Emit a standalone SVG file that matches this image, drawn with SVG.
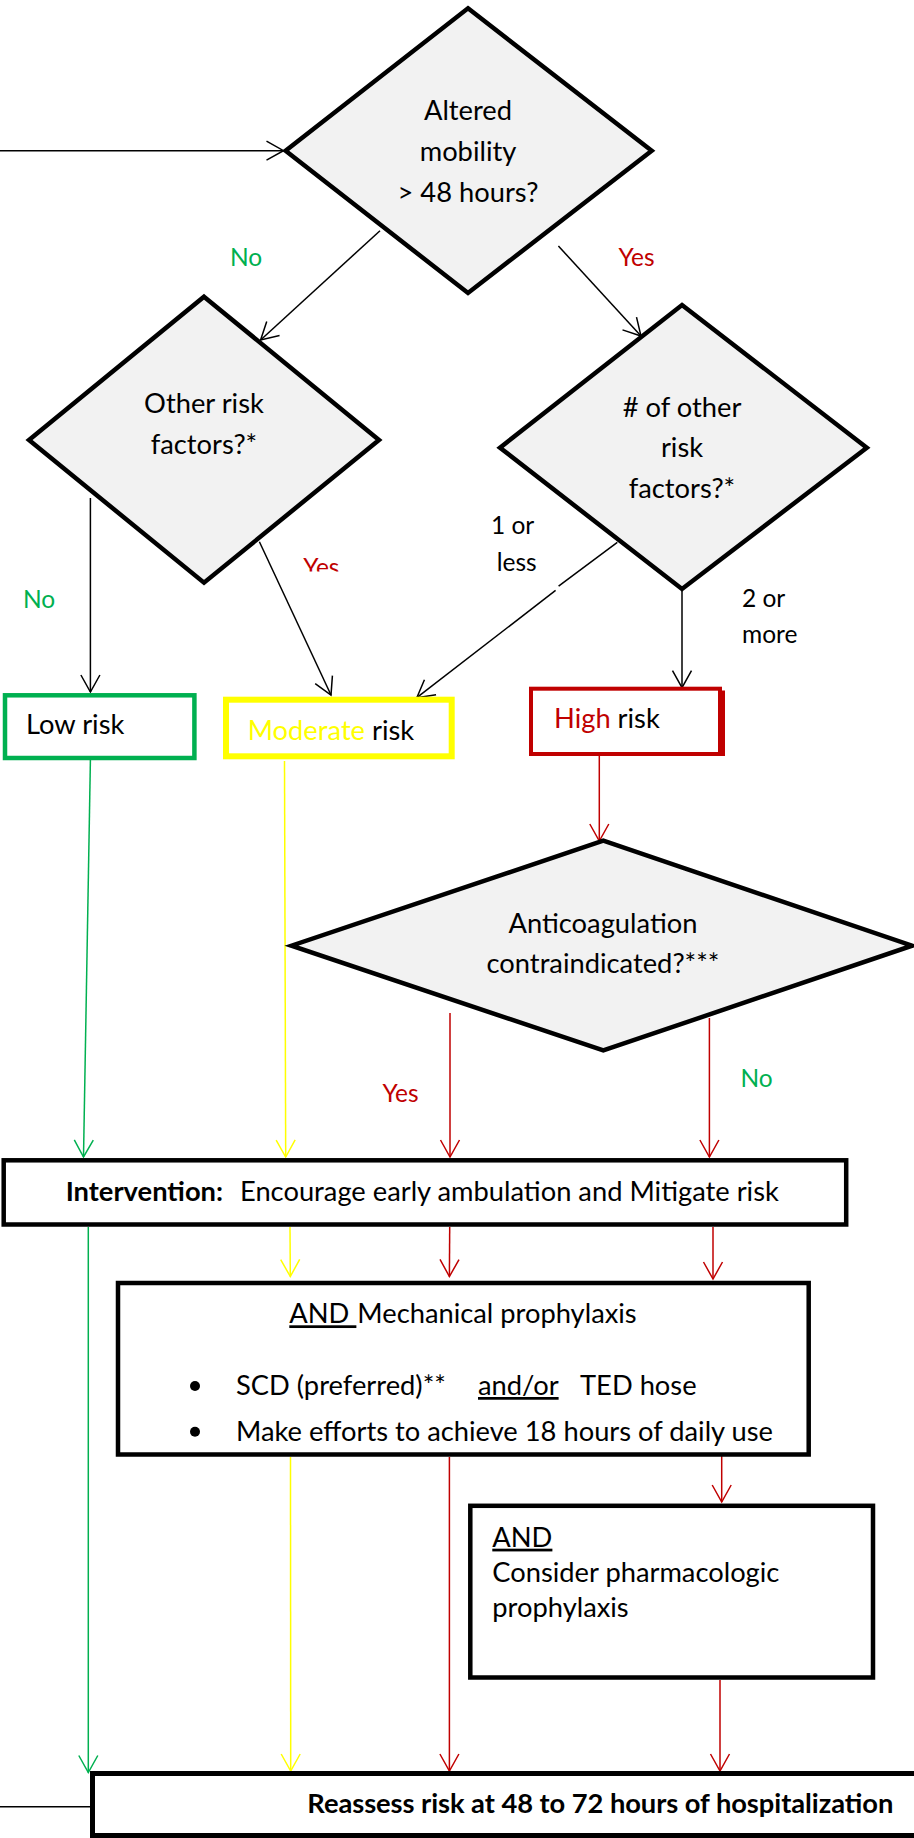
<svg xmlns="http://www.w3.org/2000/svg" width="914" height="1838" viewBox="0 0 914 1838">
<style>
.dia{fill:#F2F2F2;stroke:#000;stroke-width:4.5;stroke-linejoin:miter}
.box{fill:#fff;stroke:#000;stroke-width:4.5}
.t{font-family:Lato,'Liberation Sans',sans-serif;font-size:27.3px;fill:#000}
.c{text-anchor:middle}
.lbl{font-size:24.5px}
.b{font-weight:bold}
.e{fill:none;stroke-width:1.5}
.k{stroke:#000}
.g{stroke:#00B050}
.y{stroke:#FFFF00}
.r{stroke:#C00000}
.gt{fill:#00B050}
.rt{fill:#C00000}
.yt{fill:#FFFF00}
.u{text-decoration:underline}
</style>
<defs>
<marker id="ak" markerUnits="userSpaceOnUse" viewBox="-19 -11 21 22" refX="0" refY="0" markerWidth="21" markerHeight="22" orient="auto" overflow="visible"><path d="M-17,-9.5 L0,0 L-17,9.5" fill="none" stroke="#000" stroke-width="1.5"/></marker>
<marker id="ag" markerUnits="userSpaceOnUse" viewBox="-19 -11 21 22" refX="0" refY="0" markerWidth="21" markerHeight="22" orient="auto" overflow="visible"><path d="M-17,-9.5 L0,0 L-17,9.5" fill="none" stroke="#00B050" stroke-width="1.5"/></marker>
<marker id="ay" markerUnits="userSpaceOnUse" viewBox="-19 -11 21 22" refX="0" refY="0" markerWidth="21" markerHeight="22" orient="auto" overflow="visible"><path d="M-17,-9.5 L0,0 L-17,9.5" fill="none" stroke="#FFFF00" stroke-width="1.5"/></marker>
<marker id="ar" markerUnits="userSpaceOnUse" viewBox="-19 -11 21 22" refX="0" refY="0" markerWidth="21" markerHeight="22" orient="auto" overflow="visible"><path d="M-17,-9.5 L0,0 L-17,9.5" fill="none" stroke="#C00000" stroke-width="1.5"/></marker>
<clipPath id="clipYes"><rect x="290" y="550" width="60" height="21.5"/></clipPath>
</defs>
<rect width="914" height="1838" fill="#fff"/>

<g id="connectors">
<line class="e k" x1="0" y1="150.7" x2="283.5" y2="150.7" marker-end="url(#ak)"/>
<line class="e k" x1="380" y1="230.7" x2="260.6" y2="340" marker-end="url(#ak)"/>
<line class="e k" x1="558.4" y1="246" x2="641" y2="336" marker-end="url(#ak)"/>
<line class="e k" x1="90.4" y1="498" x2="90.4" y2="692" marker-end="url(#ak)"/>
<line class="e k" x1="259.4" y1="541.7" x2="331" y2="695" marker-end="url(#ak)"/>
<line class="e k" x1="617.3" y1="542.3" x2="558.6" y2="586.2"/>
<line class="e k" x1="555.6" y1="590.4" x2="416.8" y2="697.7" marker-end="url(#ak)"/>
<line class="e k" x1="682" y1="589" x2="682" y2="687.7" marker-end="url(#ak)"/>
<line class="e g" x1="90.4" y1="760" x2="83.5" y2="1157" marker-end="url(#ag)"/>
<line class="e y" x1="284.5" y1="761" x2="285.7" y2="1157" marker-end="url(#ay)"/>
<line class="e r" x1="599.3" y1="756" x2="599.3" y2="841" marker-end="url(#ar)"/>
<line class="e r" x1="450" y1="1013" x2="450" y2="1157" marker-end="url(#ar)"/>
<line class="e r" x1="709.4" y1="1018" x2="709.4" y2="1157" marker-end="url(#ar)"/>
<line class="e y" x1="290" y1="1227" x2="290.3" y2="1276.5" marker-end="url(#ay)"/>
<line class="e r" x1="449.7" y1="1227" x2="449.4" y2="1276.5" marker-end="url(#ar)"/>
<line class="e r" x1="713" y1="1227" x2="713" y2="1279" marker-end="url(#ar)"/>
<line class="e r" x1="721.7" y1="1451" x2="721.7" y2="1502" marker-end="url(#ar)"/>
<line class="e y" x1="290.5" y1="1457" x2="290.7" y2="1771" marker-end="url(#ay)"/>
<line class="e r" x1="449.4" y1="1457" x2="449.4" y2="1771" marker-end="url(#ar)"/>
<line class="e r" x1="720" y1="1680" x2="720" y2="1771" marker-end="url(#ar)"/>
<line class="e g" x1="88.3" y1="1227" x2="88.3" y2="1772.5" marker-end="url(#ag)"/>
<line class="e k" x1="0" y1="1806.7" x2="90" y2="1806.7"/>
</g>

<g id="labels">
<text class="t lbl gt c" x="246" y="265.7">No</text>
<text class="t lbl rt c" x="636.5" y="265.7">Yes</text>
<text class="t lbl gt c" x="39" y="608.3">No</text>
<text class="t lbl rt" x="303.3" y="575.5" clip-path="url(#clipYes)">Yes</text>
<text class="t lbl" x="491" y="534">1 or</text>
<text class="t lbl" x="496.7" y="570.7">less</text>
<text class="t lbl" x="742" y="606.7">2 or</text>
<text class="t lbl" x="742" y="642.7">more</text>
<text class="t lbl rt c" x="400.5" y="1101.7">Yes</text>
<text class="t lbl gt c" x="756.6" y="1086.7">No</text>
</g>

<g id="d-mobility">
<polygon class="dia" points="468,8.3 651.7,150.7 468,293 285.6,150.7"/>
<text class="t c" x="468" y="120">Altered</text>
<text class="t c" x="468" y="160.7">mobility</text>
<text class="t c" x="468" y="202.3">&gt; 48 hours?</text>
</g>

<g id="d-other">
<polygon class="dia" points="204,296.7 379,440 204,582.7 29,440"/>
<text class="t c" x="204" y="413.3">Other risk</text>
<text class="t c" x="204" y="454">factors?*</text>
</g>

<g id="d-count">
<polygon class="dia" points="682,305 866.8,447.7 682,589 500,447.7"/>
<text class="t c" x="682" y="416.7"># of other</text>
<text class="t c" x="682" y="457.3">risk</text>
<text class="t c" x="682" y="498.3">factors?*</text>
</g>

<g id="low">
<rect x="5" y="695.3" width="189.4" height="62.7" fill="#fff" stroke="#00B050" stroke-width="4.5"/>
<text class="t" x="26" y="734">Low risk</text>
</g>

<g id="moderate">
<rect x="226" y="699.7" width="225.7" height="56.6" fill="#fff" stroke="#FFFF00" stroke-width="6"/>
<text class="t" x="247.7" y="740"><tspan class="yt">Moderate</tspan> risk</text>
</g>

<g id="high">
<rect x="531" y="688.7" width="189" height="65.3" fill="#fff" stroke="#C00000" stroke-width="4"/>
<polyline points="531,754 723,754 723,690.5" fill="none" stroke="#C00000" stroke-width="4"/>
<text class="t" x="554" y="728.3"><tspan class="rt">High</tspan> risk</text>
</g>

<g id="d-anticoag">
<polygon class="dia" points="603.3,840.7 912,945.7 603.3,1050.5 291.5,945.7"/>
<text class="t c" x="603" y="933.3">Anticoagulation</text>
<text class="t c" x="603" y="973.3">contraindicated?***</text>
</g>

<g id="intervention">
<rect class="box" x="3.7" y="1160.3" width="842.5" height="64.2"/>
<text class="t" x="65.7" y="1200.7"><tspan class="b">Intervention:</tspan><tspan x="240">Encourage early ambulation and Mitigate risk</tspan></text>
</g>

<g id="mechanical">
<rect class="box" x="118" y="1283" width="690.7" height="171.5"/>
<text class="t" x="289.3" y="1323.3" xml:space="preserve"><tspan class="u">AND </tspan><tspan x="357.3">Mechanical prophylaxis</tspan></text>
<circle cx="195" cy="1386" r="5" fill="#000"/>
<text class="t" x="236" y="1395">SCD (preferred)**<tspan class="u" x="478">and/or</tspan><tspan x="580">TED hose</tspan></text>
<circle cx="195" cy="1431.7" r="5" fill="#000"/>
<text class="t" x="236" y="1440.7">Make efforts to achieve 18 hours of daily use</text>
</g>

<g id="pharmacologic">
<rect class="box" x="470.3" y="1505.8" width="402.7" height="171.7"/>
<text class="t" x="492.3" y="1546.7"><tspan class="u">AND</tspan></text>
<text class="t" x="492.3" y="1581.7">Consider pharmacologic</text>
<text class="t" x="492.3" y="1616.7">prophylaxis</text>
</g>

<g id="reassess">
<rect x="92.5" y="1773.5" width="900" height="62" fill="#fff" stroke="#000" stroke-width="5"/>
<text class="t b" x="307.3" y="1813.3" textLength="586">Reassess risk at 48 to 72 hours of hospitalization</text>
</g>
</svg>
